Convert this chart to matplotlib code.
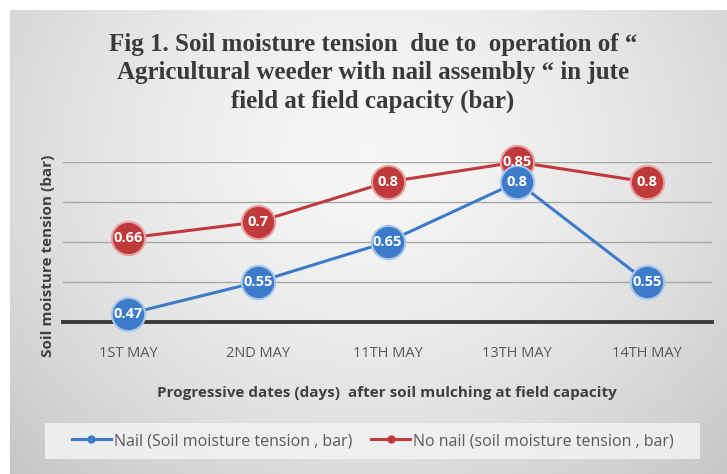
import numpy as np
import matplotlib
matplotlib.use("Agg")
import matplotlib.pyplot as plt
from matplotlib.lines import Line2D
from matplotlib.patches import Rectangle

categories = ["1ST MAY", "2ND MAY", "11TH MAY", "13TH MAY", "14TH MAY"]
nail = [0.47, 0.55, 0.65, 0.80, 0.55]
no_nail = [0.66, 0.70, 0.80, 0.85, 0.80]
nail_labels = ["0.47", "0.55", "0.65", "0.8", "0.55"]
no_nail_labels = ["0.66", "0.7", "0.8", "0.85", "0.8"]
series_names = ["Nail (Soil moisture tension , bar)", "No nail (soil moisture tension , bar)"]
title = "Fig 1. Soil moisture tension  due to  operation of \u201c\nAgricultural weeder with nail assembly \u201c in jute\nfield at field capacity (bar)"
xlabel = "Progressive dates (days)  after soil mulching at field capacity"
ylabel = "Soil moisture tension (bar)"

W, H = 727, 474
fig = plt.figure(figsize=(W / 100, H / 100), dpi=100)

# background gradient
bg = fig.add_axes([0, 0, 1, 1])
yy, xx = np.mgrid[0:H, 0:W]
r = np.sqrt(((xx - 370) / 420.0) ** 2 + ((yy - 150) / 380.0) ** 2)
g = 0.965 - 0.14 * np.clip(r, 0, 1.3) ** 1.6
img = np.dstack([g, g, g])
img[(xx < 10) | (yy < 10)] = 1.0
bg.imshow(img, aspect="auto", extent=[0, 1, 0, 1], origin="upper")
bg.axis("off")

sans = ["Open Sans", "DejaVu Sans"]

# plot axes
left, right, top, bottom = 63, 712, 162, 322
ax = fig.add_axes([left / W, 1 - bottom / H, (right - left) / W, (bottom - top) / H])
ax.set_facecolor("none")
x = np.arange(len(categories))
ax.set_xlim(-0.5, len(categories) - 0.5)
ax.set_ylim(0.45, 0.85)
ax.set_yticks([0.55, 0.65, 0.75, 0.85])
ax.yaxis.grid(True, color="#a6a6a6", linewidth=1.0)
ax.set_axisbelow(True)
ax.tick_params(axis="y", left=False, labelleft=False)
ax.tick_params(axis="x", bottom=False, pad=14, labelsize=10.5, labelcolor="#595959")
ax.set_xticks(x)
ax.set_xticklabels(categories, family=sans)
for s in ["left", "right", "top"]:
    ax.spines[s].set_visible(False)
ax.spines["bottom"].set_color("#3a3a3a")
ax.spines["bottom"].set_linewidth(2.8)

red = "#c0393b"
blue = "#3c7bc9"
ax.plot(x, no_nail, color=red, lw=2.2, marker="o", ms=24, mfc=red, mec="#e6a3a3",
        mew=1.5, zorder=3, clip_on=False)
ax.plot(x, nail, color=blue, lw=2.2, marker="o", ms=24, mfc=blue, mec="#a8c6ec",
        mew=1.5, zorder=4, clip_on=False)
for xi, v, lab in zip(x, no_nail, no_nail_labels):
    ax.text(xi, v, lab, color="white", ha="center", va="center", fontsize=10.5,
            fontweight="bold", family=sans, zorder=6, clip_on=False)
for xi, v, lab in zip(x, nail, nail_labels):
    ax.text(xi, v, lab, color="white", ha="center", va="center", fontsize=10.5,
            fontweight="bold", family=sans, zorder=6, clip_on=False)

# title
fig.text(373 / W, 1 - 33 / H, title, ha="center", va="top", fontsize=18,
         fontweight="bold", family=["Liberation Serif", "DejaVu Serif"],
         color="#3a3a3a", linespacing=1.28)

# axis labels
fig.text(387 / W, 1 - 393 / H, xlabel, ha="center", va="center", fontsize=11,
         fontweight="bold", family=sans, color="#404040")
fig.text(48 / W, 1 - 256 / H, ylabel, ha="center", va="center", rotation=90,
         fontsize=11, fontweight="bold", family=sans, color="#404040")

# legend
fig.patches.append(Rectangle((45 / W, 1 - 459 / H), 655 / W, 36 / H,
                             transform=fig.transFigure, facecolor="#f3f3f3",
                             edgecolor="none", alpha=0.85, zorder=1))
handles = [Line2D([], [], color=blue, lw=2.2, marker="o", ms=5),
           Line2D([], [], color=red, lw=2.2, marker="o", ms=5)]
leg = fig.legend(handles, series_names, loc="center", bbox_to_anchor=(373 / W, 1 - 441 / H),
                 ncol=2, frameon=False, handlelength=2.4, handletextpad=0.2,
                 columnspacing=1.2, prop={"family": sans, "size": 11.5})
for t in leg.get_texts():
    t.set_color("#595959")

fig.savefig("out.png", dpi=100)
